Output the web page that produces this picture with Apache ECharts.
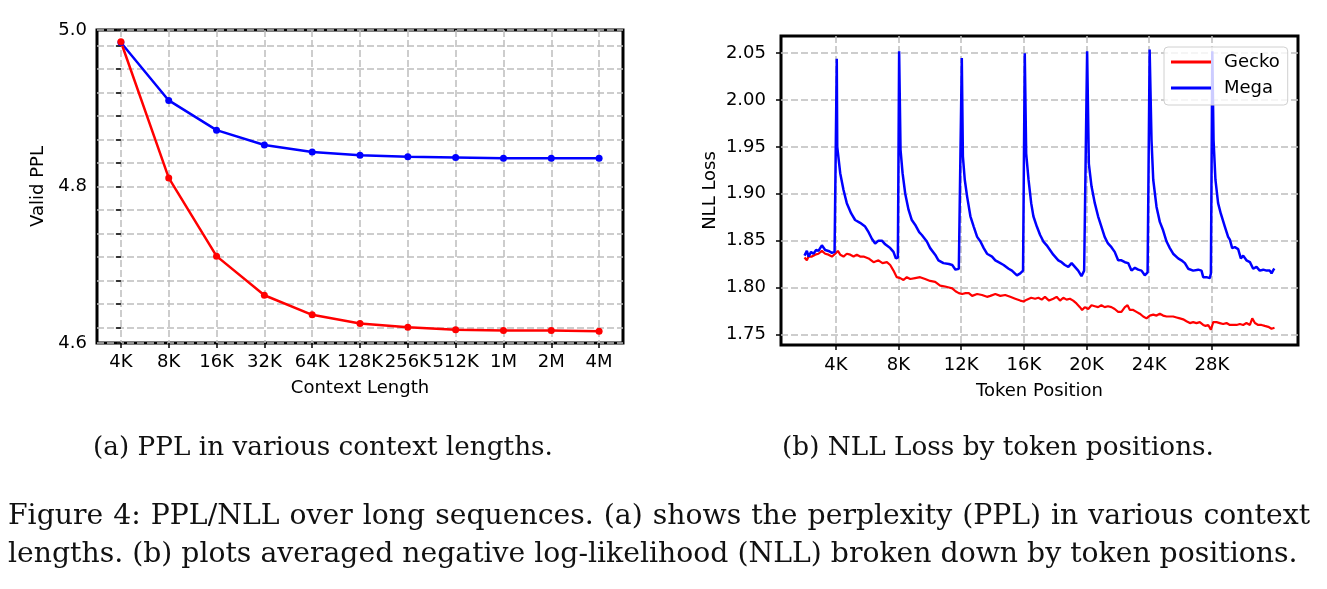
<!DOCTYPE html>
<html>
<head>
<meta charset="utf-8">
<script src="https://cdn.jsdelivr.net/npm/echarts@6/dist/echarts.min.js"></script>
<style>
  html, body { margin: 0; padding: 0; background: #fff; }
  #chart { width: 1327px; height: 589px; }
</style>
</head>
<body>
<div id="chart"></div>
<script>
// (a) PPL vs context length
const contextLabels = ['4K', '8K', '16K', '32K', '64K', '128K', '256K', '512K', '1M', '2M', '4M'];
const pplMega  = [4.984, 4.910, 4.872, 4.853, 4.844, 4.840, 4.838, 4.837, 4.836, 4.836, 4.836];
const pplGecko = [4.985, 4.811, 4.711, 4.661, 4.636, 4.625, 4.620, 4.617, 4.616, 4.616, 4.615];
const pplGridTicks = [4.62, 4.65, 4.68, 4.71, 4.74, 4.77, 4.80, 4.83, 4.86, 4.89, 4.92, 4.95, 4.98];
const pplLabelTicks = [4.6, 4.8, 5.0];

// (b) NLL vs token position
const tokenTicks = [4000, 8000, 12000, 16000, 20000, 24000, 28000];
const tokenTickLabels = ['4K', '8K', '12K', '16K', '20K', '24K', '28K'];
const nllTicks = [1.75, 1.80, 1.85, 1.90, 1.95, 2.00, 2.05];

const megaTokens = [
  2000, 2150, 2260, 2420, 2570, 2740, 2890, 3110, 3320, 3530, 3750, 3920, 4000,
  4060, 4090, 4280, 4490, 4700, 4980, 5230, 5550, 5870, 6090, 6300, 6510, 6720, 6940, 7150, 7470, 7680, 7830, 7960,
  8040, 8130, 8260, 8430, 8640, 8850, 9060, 9320, 9490, 9810, 10020, 10340, 10550, 10870, 11220, 11430, 11640, 11850, 11960,
  12040, 12110, 12230, 12380, 12590, 12800, 13020, 13230, 13440, 13650, 13970, 14180, 14390, 14710, 15030, 15240, 15560, 15770, 15950,
  16060, 16150, 16300, 16470, 16610, 16830, 17040, 17250, 17460, 17670, 17880, 18200, 18410, 18620, 18840, 19050, 19260, 19470, 19680, 19850,
  20040, 20150, 20320, 20530, 20740, 20950, 21160, 21370, 21590, 21800, 22020, 22230, 22450, 22660, 22870, 23090, 23300, 23510, 23720, 23900,
  24030, 24150, 24260, 24470, 24680, 24890, 25110, 25320, 25530, 25850, 26060, 26280, 26490, 26810, 27130, 27340, 27450, 27660, 27870, 27940,
  28030, 28110, 28230, 28400, 28570, 28830, 29040, 29150, 29300, 29470, 29680, 29850, 30000, 30210, 30430, 30640, 30850, 31060, 31280, 31490, 31700, 31810, 31940, 32000
];
const megaLoss = [
  1.834, 1.839, 1.833, 1.838, 1.836, 1.840, 1.839, 1.845, 1.840, 1.839, 1.837, 1.838, 1.836,
  2.044, 1.950, 1.922, 1.904, 1.890, 1.879, 1.872, 1.869, 1.865, 1.859, 1.852, 1.847, 1.850, 1.850, 1.846, 1.842, 1.838, 1.831, 1.832,
  2.052, 1.947, 1.922, 1.900, 1.883, 1.872, 1.867, 1.859, 1.856, 1.849, 1.842, 1.835, 1.829, 1.826, 1.825, 1.824, 1.819, 1.820, 1.821,
  2.045, 1.940, 1.915, 1.897, 1.876, 1.865, 1.854, 1.849, 1.842, 1.836, 1.833, 1.829, 1.827, 1.824, 1.820, 1.818, 1.813, 1.815, 1.818,
  2.050, 1.943, 1.915, 1.890, 1.876, 1.865, 1.856, 1.849, 1.845, 1.840, 1.835, 1.829, 1.827, 1.824, 1.822, 1.826, 1.822, 1.818, 1.812, 1.818,
  2.052, 1.932, 1.908, 1.890, 1.876, 1.865, 1.854, 1.847, 1.843, 1.838, 1.829, 1.829, 1.827, 1.826, 1.818, 1.821, 1.819, 1.818, 1.813, 1.816,
  2.054, 1.957, 1.915, 1.886, 1.870, 1.861, 1.849, 1.842, 1.836, 1.831, 1.829, 1.826, 1.820, 1.818, 1.819, 1.818, 1.811, 1.811, 1.810, 1.815,
  2.052, 1.957, 1.915, 1.890, 1.879, 1.865, 1.854, 1.851, 1.842, 1.843, 1.841, 1.831, 1.834, 1.829, 1.827, 1.820, 1.822, 1.818, 1.819, 1.818, 1.818, 1.815, 1.819, 1.820
];

const geckoTokens = [
  2000, 2150, 2260, 2470, 2680, 2890, 3110, 3320, 3530, 3750, 3960, 4130, 4280, 4490, 4700, 4920, 5130, 5340, 5550, 5770,
  6090, 6410, 6720, 6980, 7260, 7470, 7680, 7890, 8110, 8320, 8530, 8750, 9060, 9380, 9700, 10020, 10340, 10660, 10980, 11220,
  11430, 11640, 11850, 12060, 12280, 12490, 12700, 13020, 13330, 13650, 13860, 14180, 14500, 14810, 15130, 15450, 15770, 15980, 16190, 16470,
  16720, 16930, 17140, 17350, 17610, 17880, 18090, 18310, 18520, 18730, 18940, 19150, 19360, 19580, 19720, 19890, 20110, 20320, 20530, 20740,
  20950, 21160, 21370, 21590, 21800, 22020, 22230, 22450, 22620, 22770, 22980, 23190, 23400, 23620, 23830, 24040, 24260, 24470, 24680, 24890,
  25110, 25320, 25530, 25750, 25960, 26170, 26380, 26600, 26810, 27020, 27230, 27450, 27600, 27770, 27940, 28090, 28300, 28510, 28720, 28940,
  29150, 29360, 29580, 29790, 30000, 30210, 30430, 30580, 30750, 30960, 31170, 31380, 31600, 31810, 32000
];
const geckoLoss = [
  1.832, 1.829, 1.833, 1.833, 1.835, 1.836, 1.839, 1.836, 1.835, 1.833, 1.836, 1.839, 1.835, 1.833, 1.836, 1.835, 1.833, 1.835, 1.833, 1.833,
  1.831, 1.827, 1.829, 1.826, 1.827, 1.824, 1.818, 1.811, 1.810, 1.808, 1.811, 1.809, 1.810, 1.811, 1.809, 1.807, 1.806, 1.802, 1.801, 1.800,
  1.799, 1.796, 1.794, 1.793, 1.794, 1.794, 1.791, 1.793, 1.792, 1.790, 1.791, 1.793, 1.791, 1.792, 1.790, 1.788, 1.786, 1.785, 1.787, 1.789,
  1.788, 1.789, 1.787, 1.790, 1.786, 1.788, 1.790, 1.786, 1.789, 1.787, 1.788, 1.786, 1.783, 1.779, 1.776, 1.779, 1.777, 1.781, 1.780, 1.779,
  1.781, 1.779, 1.780, 1.779, 1.777, 1.774, 1.774, 1.779, 1.781, 1.776, 1.776, 1.774, 1.772, 1.769, 1.767, 1.770, 1.771, 1.770, 1.772, 1.770,
  1.769, 1.769, 1.769, 1.768, 1.767, 1.766, 1.764, 1.762, 1.763, 1.762, 1.763, 1.760, 1.759, 1.760, 1.755, 1.763, 1.763, 1.762, 1.761, 1.762,
  1.760, 1.760, 1.760, 1.761, 1.760, 1.762, 1.760, 1.767, 1.762, 1.760, 1.760, 1.759, 1.758, 1.756, 1.757
];

const subCaptionA = '(a) PPL in various context lengths.';
const subCaptionB = '(b) NLL Loss by token positions.';
const figLine1 = 'Figure 4: PPL/NLL over long sequences. (a) shows the perplexity (PPL) in various context';
const figLine2 = 'lengths. (b) plots averaged negative log-likelihood (NLL) broken down by token positions.';

const SANS = 'DejaVu Sans';
const SERIF = 'DejaVu Serif';
const gridLine = { show: true, lineStyle: { color: '#bdbdbd', type: [7, 3], width: 1.5 } };
const tick = { show: true, inside: false, length: 5, lineStyle: { color: '#000', width: 1.5 } };
const axisText = { color: '#000', fontFamily: SANS, fontSize: 18 };

const chart = echarts.init(document.getElementById('chart'));

// caption helpers: size from measured width, justify first caption line
const ctx = document.createElement('canvas').getContext('2d');
function measure(text, size) {
  ctx.font = size + 'px "' + SERIF + '"';
  return ctx.measureText(text).width;
}
const subSize = 24 * 460 / measure(subCaptionA, 24);
const figSize = 24 * 1290 / measure(figLine2, 24);

function textEl(text, x, y, size, align) {
  return {
    type: 'text', x: x, y: y, silent: true,
    style: { text: text, font: size + 'px "' + SERIF + '"', fill: '#111', align: align || 'left', verticalAlign: 'middle' }
  };
}
function justified(text, x0, x1, y, size) {
  const words = text.split(' ');
  const widths = words.map(w => measure(w, size));
  const gap = (x1 - x0 - widths.reduce((a, b) => a + b, 0)) / (words.length - 1);
  let x = x0;
  return words.map((w, i) => {
    const el = textEl(w, x, y, size);
    x += widths[i] + gap;
    return el;
  });
}

const option = {
  animation: false,
  backgroundColor: '#fff',
  grid: [
    { left: 97, right: 704, top: 30, bottom: 246, show: true, borderColor: '#000', borderWidth: 3, backgroundColor: '#fff' },
    { left: 781, right: 29, top: 36, bottom: 244, show: true, borderColor: '#000', borderWidth: 3, backgroundColor: '#fff' }
  ],
  legend: {
    data: ['Gecko', 'Mega'],
    orient: 'vertical',
    left: 1164, top: 47,
    icon: 'rect', itemWidth: 40, itemHeight: 3, itemGap: 6,
    padding: [5, 8, 7, 7],
    backgroundColor: 'rgba(255,255,255,0.8)',
    borderColor: '#d0d0d0', borderWidth: 1, borderRadius: 4,
    textStyle: { color: '#000', fontFamily: SANS, fontSize: 18, lineHeight: 20, padding: [0, 0, 0, 8] }
  },
  xAxis: [
    {
      gridIndex: 0, type: 'value', min: -0.5, max: contextLabels.length - 0.5,
      name: 'Context Length', nameLocation: 'middle', nameGap: 36,
      nameTextStyle: axisText,
      axisLine: { show: false },
      axisTick: Object.assign({}, tick, { customValues: contextLabels.map((_, i) => i) }),
      axisLabel: Object.assign({}, axisText, {
        margin: 10,
        customValues: contextLabels.map((_, i) => i),
        formatter: v => contextLabels[Math.round(v)]
      }),
      splitLine: gridLine
    },
    {
      gridIndex: 1, type: 'value', min: 500, max: 33500,
      name: 'Token Position', nameLocation: 'middle', nameGap: 37,
      nameTextStyle: axisText,
      axisLine: { show: false },
      axisTick: Object.assign({}, tick, { customValues: tokenTicks }),
      axisLabel: Object.assign({}, axisText, {
        margin: 11,
        customValues: tokenTicks,
        formatter: v => tokenTickLabels[tokenTicks.indexOf(v)]
      }),
      splitLine: gridLine
    }
  ],
  yAxis: [
    {
      gridIndex: 0, type: 'value', min: 4.6, max: 5.0,
      name: 'Valid PPL', nameLocation: 'middle', nameGap: 50, nameRotate: 90,
      nameTextStyle: axisText,
      axisLine: { show: false },
      axisTick: Object.assign({}, tick, { customValues: [4.6].concat(pplGridTicks, [5.0]) }),
      axisLabel: Object.assign({}, axisText, {
        margin: 10,
        customValues: pplLabelTicks,
        formatter: v => v.toFixed(1)
      }),
      splitLine: gridLine
    },
    {
      gridIndex: 1, type: 'value', min: 1.7386, max: 2.0684,
      name: 'NLL Loss', nameLocation: 'middle', nameGap: 62, nameRotate: 90,
      nameTextStyle: axisText,
      axisLine: { show: false },
      axisTick: Object.assign({}, tick, { customValues: nllTicks }),
      axisLabel: Object.assign({}, axisText, {
        margin: 15,
        customValues: nllTicks,
        formatter: v => v.toFixed(2)
      }),
      splitLine: gridLine
    }
  ],
  series: [
    {
      name: 'Mega', type: 'line', xAxisIndex: 0, yAxisIndex: 0,
      data: pplMega.map((v, i) => [i, v]),
      symbol: 'circle', symbolSize: 7,
      lineStyle: { color: '#0000ff', width: 2.5 }, itemStyle: { color: '#0000ff' }
    },
    {
      name: 'Gecko', type: 'line', xAxisIndex: 0, yAxisIndex: 0,
      data: pplGecko.map((v, i) => [i, v]),
      symbol: 'circle', symbolSize: 7,
      lineStyle: { color: '#ff0000', width: 2.5 }, itemStyle: { color: '#ff0000' }
    },
    {
      name: 'Gecko', type: 'line', xAxisIndex: 1, yAxisIndex: 1,
      data: geckoTokens.map((t, i) => [t, geckoLoss[i]]),
      symbol: 'none',
      lineStyle: { color: '#ff0000', width: 2.2 }, itemStyle: { color: '#ff0000' }
    },
    {
      name: 'Mega', type: 'line', xAxisIndex: 1, yAxisIndex: 1,
      data: megaTokens.map((t, i) => [t, megaLoss[i]]),
      symbol: 'none',
      lineStyle: { color: '#0000ff', width: 2.5 }, itemStyle: { color: '#0000ff' }
    }
  ],
  graphic: [
    textEl(subCaptionA, 323, 448, subSize, 'center'),
    textEl(subCaptionB, 998, 448, subSize, 'center')
  ].concat(
    justified(figLine1, 8, 1310, 517, figSize),
    [textEl(figLine2, 8, 555, figSize)]
  )
};

chart.setOption(option);
</script>
</body>
</html>
